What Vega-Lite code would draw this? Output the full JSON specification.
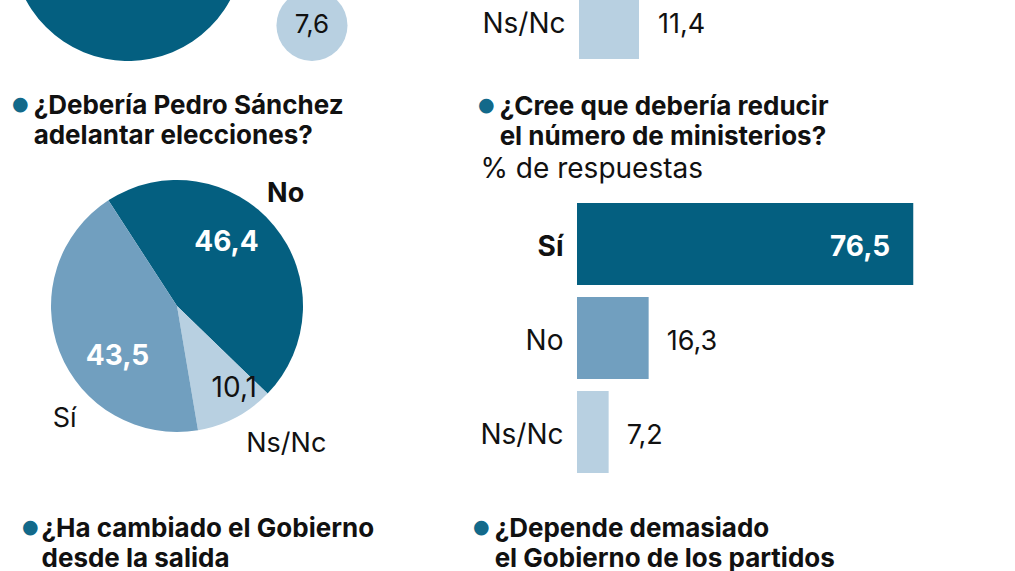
{
  "$schema": "https://vega.github.io/schema/vega-lite/v6.json",
  "background": "white",
  "padding": 0,
  "spacing": 37,
  "config": {
    "view": {"stroke": null},
    "font": "Inter",
    "locale": {"number": {"decimal": ",", "thousands": ".", "grouping": [3], "currency": ["", " €"]}},
    "title": {
      "color": "#12698a", "font": "DejaVu Sans", "fontSize": 19, "anchor": "start", "frame": "group",
      "subtitleFont": "Inter", "subtitleFontSize": 26, "subtitleFontWeight": "bold", "subtitleColor": "#111111",
      "subtitleLineHeight": 30, "subtitlePadding": -21
    }
  },
  "resolve": {"scale": {"color": "independent"}},
  "vconcat": [
    {
      "spacing": 17,
      "resolve": {"scale": {"color": "independent"}},
      "vconcat": [
        {
          "spacing": 41,
          "resolve": {"scale": {"color": "independent"}},
          "hconcat": [
            {
              "width": 440, "height": 61,
              "data": {"values": [{"resp": "No", "pct": 81.0}, {"resp": "Ns/Nc", "pct": 7.6}]},
              "encoding": {
                "x": {"field": "resp", "type": "nominal", "axis": null, "scale": {"type": "point", "padding": 0.696, "domain": ["No", "Ns/Nc"]}},
                "y": {"field": "pct", "type": "quantitative", "axis": null, "scale": {"type": "sqrt", "domain": [0, 22.4]}}
              },
              "layer": [
                {
                  "mark": {"type": "point", "filled": true, "opacity": 1, "clip": true, "shape": "circle", "strokeWidth": 0},
                  "encoding": {
                    "size": {"field": "pct", "type": "quantitative", "legend": null, "scale": {"domain": [0, 100], "range": [0, 66450]}},
                    "color": {"field": "resp", "type": "nominal", "legend": null, "scale": {"domain": ["No", "Ns/Nc"], "range": ["#045f80", "#b8d0e1"]}}
                  }
                },
                {
                  "mark": {"type": "text", "clip": true, "fontSize": 26, "color": "#111111", "baseline": "middle"},
                  "encoding": {"text": {"field": "pct", "type": "quantitative", "format": ".1f"}}
                }
              ]
            },
            {
              "width": 400, "height": 61,
              "data": {"values": [{"resp": "Ns/Nc", "pct": 11.4}]},
              "encoding": {
                "y": {"field": "resp", "type": "nominal", "title": null,
                      "scale": {"domain": ["Ns/Nc"], "range": [-17, 59], "paddingInner": 0, "paddingOuter": 0},
                      "axis": {"domain": false, "ticks": false, "labelFontSize": 28, "labelPadding": 14, "labelOffset": 4, "labelColor": "#111111", "labelFont": "Inter"}},
                "x": {"field": "pct", "type": "quantitative", "axis": null, "scale": {"domain": [0, 76]}}
              },
              "layer": [
                {"mark": {"type": "bar", "clip": true, "color": "#b8d0e1"}},
                {
                  "mark": {"type": "text", "align": "left", "dx": 19, "dy": 4, "fontSize": 27, "baseline": "middle", "color": "#111111"},
                  "encoding": {"text": {"field": "pct", "type": "quantitative", "format": ".1f"}}
                }
              ]
            }
          ]
        },
        {
          "spacing": 124,
          "resolve": {"scale": {"color": "independent"}},
          "hconcat": [
            {
              "width": 354, "height": 218,
              "title": {
                "text": "●", "dx": 12, "offset": 29,
                "subtitle": ["\u200b\u2002\u2006\u2006¿Debería Pedro Sánchez", "\u200b\u2002\u2006\u2006adelantar elecciones?"]
              },
              "data": {"values": [
                {"resp": "No", "pct": 46.4},
                {"resp": "Ns/Nc", "pct": 10.1},
                {"resp": "Sí", "pct": 43.5}
              ]},
              "encoding": {
                "theta": {"field": "pct", "type": "quantitative", "stack": true, "scale": {"range": [-0.576, 5.707]}},
                "order": {"field": "resp", "type": "nominal", "sort": "ascending"}
              },
              "layer": [
                {
                  "mark": {"type": "arc", "outerRadius": 126},
                  "encoding": {
                    "color": {"field": "resp", "type": "nominal", "legend": null, "scale": {"domain": ["No", "Ns/Nc", "Sí"], "range": ["#045f80", "#b8d0e1", "#719fbf"]}}
                  }
                },
                {
                  "mark": {"type": "text", "radius": 81, "fontSize": 28, "fontWeight": "bold", "color": "white", "baseline": "middle", "dx": -13, "dy": -11},
                  "encoding": {"text": {"condition": {"test": "datum.resp == 'No'", "field": "pct", "type": "quantitative", "format": ".1f"}, "value": ""}}
                },
                {
                  "mark": {"type": "text", "radius": 80, "fontSize": 28, "fontWeight": "bold", "color": "white", "baseline": "middle", "dx": 15, "dy": 22},
                  "encoding": {"text": {"condition": {"test": "datum.resp == 'Sí'", "field": "pct", "type": "quantitative", "format": ".1f"}, "value": ""}}
                },
                {
                  "mark": {"type": "text", "radius": 95, "fontSize": 28, "color": "#111111", "baseline": "middle", "dx": 13, "dy": -1},
                  "encoding": {"text": {"condition": {"test": "datum.resp == 'Ns/Nc'", "field": "pct", "type": "quantitative", "format": ".1f"}, "value": ""}}
                },
                {
                  "mark": {"type": "text", "radius": 155, "fontSize": 27, "fontWeight": "bold", "color": "#111111", "baseline": "middle", "dx": -11, "dy": -13},
                  "encoding": {"text": {"condition": {"test": "datum.resp == 'No'", "field": "resp"}, "value": ""}}
                },
                {
                  "mark": {"type": "text", "radius": 40, "fontSize": 27, "color": "#111111", "baseline": "middle", "dx": -75, "dy": 98},
                  "encoding": {"text": {"condition": {"test": "datum.resp == 'Sí'", "field": "resp"}, "value": ""}}
                },
                {
                  "mark": {"type": "text", "radius": 155, "fontSize": 27, "color": "#111111", "baseline": "middle", "dx": 37, "dy": 1},
                  "encoding": {"text": {"condition": {"test": "datum.resp == 'Ns/Nc'", "field": "resp"}, "value": ""}}
                }
              ]
            },
            {
              "width": 400, "height": 282,
              "title": {
                "text": "●", "dx": -99, "offset": 3,
                "subtitle": ["\u200b\u2002\u2006\u2006¿Cree que debería reducir", "\u200b\u2002\u2006\u2006el número de ministerios?"]
              },
              "data": {"values": [
                {"resp": "Sí", "pct": 76.5},
                {"resp": "No", "pct": 16.3},
                {"resp": "Ns/Nc", "pct": 7.2}
              ]},
              "encoding": {
                "y": {"field": "resp", "type": "nominal",
                      "scale": {"domain": ["Sí", "No", "Ns/Nc"], "paddingInner": 0.128, "paddingOuter": 0.064},
                      "axis": {"domain": false, "ticks": false, "labelFontSize": 28, "labelPadding": 14, "labelOffset": 4, "labelColor": "#111111", "labelFont": "Inter",
                               "labelFontWeight": {"condition": {"test": "datum.value == 'Sí'", "value": "bold"}, "value": "normal"},
                               "title": "% de respuestas", "titleAngle": 0, "titleAlign": "left", "titleBaseline": "alphabetic",
                               "titleX": -97, "titleY": -20, "titleFontSize": 28, "titleFontWeight": "normal", "titleColor": "#111111", "titleFont": "Inter"}},
                "x": {"field": "pct", "type": "quantitative", "axis": null, "scale": {"domain": [0, 91]}}
              },
              "layer": [
                {
                  "mark": {"type": "bar"},
                  "encoding": {"color": {"field": "resp", "type": "nominal", "legend": null, "scale": {"domain": ["Sí", "No", "Ns/Nc"], "range": ["#045f80", "#719fbf", "#b8d0e1"]}}}
                },
                {
                  "transform": [{"filter": "datum.pct > 50"}],
                  "mark": {"type": "text", "align": "right", "dx": -23, "dy": 4, "fontSize": 28, "fontWeight": "bold", "baseline": "middle", "color": "white"},
                  "encoding": {"text": {"field": "pct", "type": "quantitative", "format": ".1f"}}
                },
                {
                  "transform": [{"filter": "datum.pct < 50"}],
                  "mark": {"type": "text", "align": "left", "dx": 18, "dy": 4, "fontSize": 27, "baseline": "middle", "color": "#111111"},
                  "encoding": {"text": {"field": "pct", "type": "quantitative", "format": ".1f"}}
                }
              ]
            }
          ]
        }
      ]
    },
    {
      "spacing": 33,
      "hconcat": [
        {
          "width": 440, "height": 80,
          "title": {
            "text": "●", "dx": 22, "offset": 10,
            "subtitle": ["\u200b\u2002\u2005¿Ha cambiado el Gobierno", "\u200b\u2002\u2005desde la salida"]
          },
          "data": {"values": []},
          "mark": "point"
        },
        {
          "width": 400, "height": 80,
          "title": {
            "text": "●", "dx": -3, "offset": 10,
            "subtitle": ["\u200b\u2002\u2006\u2006¿Depende demasiado", "\u200b\u2002\u2006\u2006el Gobierno de los partidos"]
          },
          "data": {"values": []},
          "mark": "point"
        }
      ]
    }
  ]
}
